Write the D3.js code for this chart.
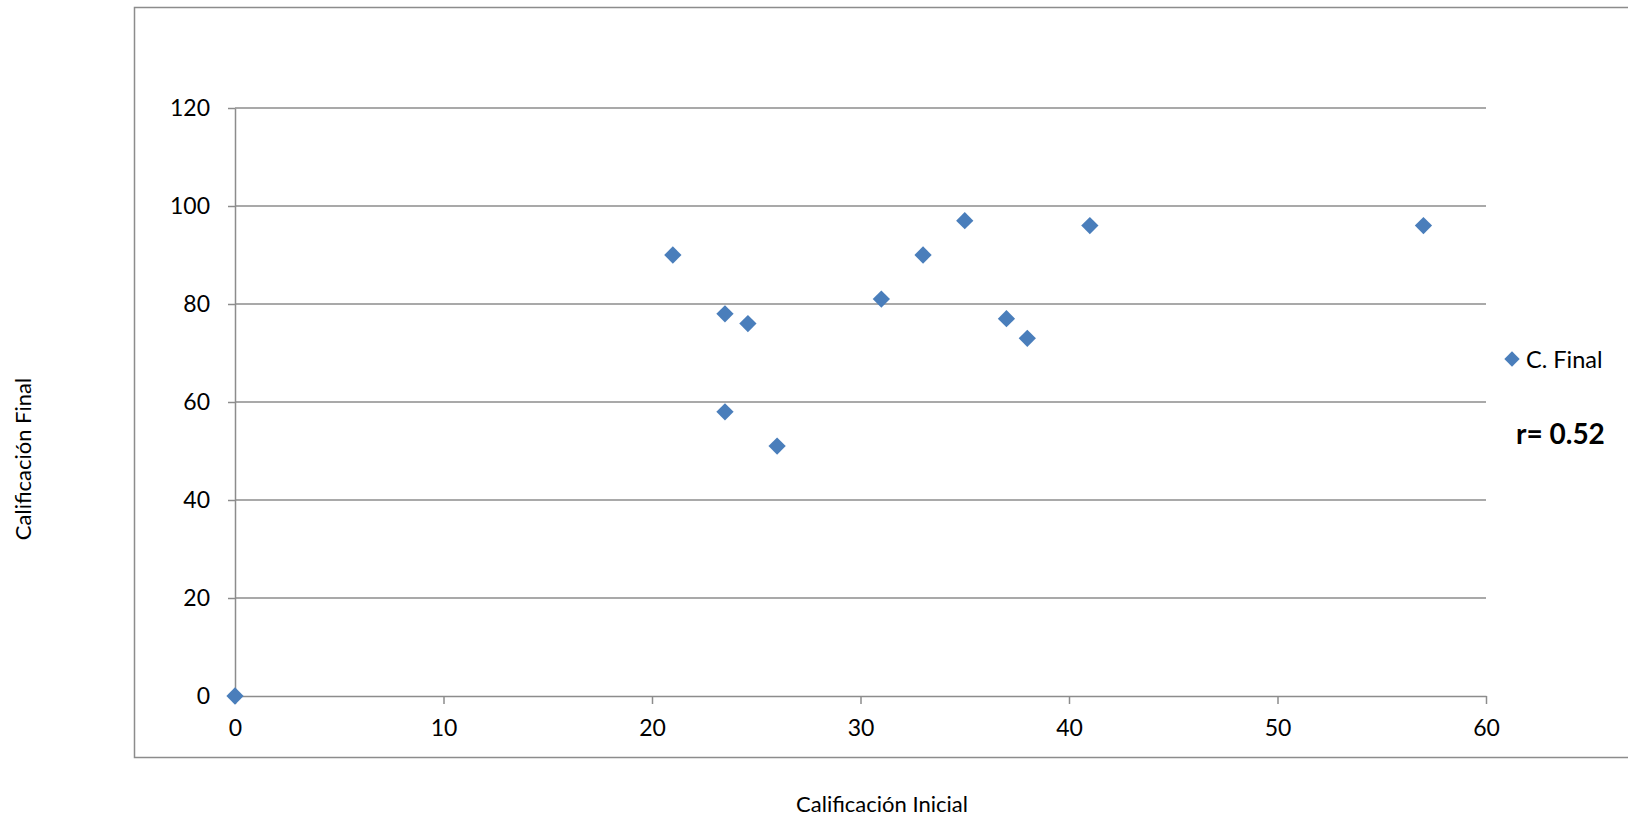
<!DOCTYPE html>
<html>
<head>
<meta charset="UTF-8">
<style>
  body { margin: 0; background: #fff; }
  svg { display: block; font-family: Lato, "Open Sans", sans-serif; }
</style>
</head>
<body>
<svg></svg>
<script src="https://d3js.org/d3.v7.min.js"></script>
<script>

let width = 1628,
    height = 820;

// values
let inicial = [0, 21, 23.5, 23.5, 24.6, 26, 31, 33, 35, 37, 38, 41, 57];
let final   = [0, 90, 78, 58, 76, 51, 81, 90, 97, 77, 73, 96, 96];
let xTicks = [0, 10, 20, 30, 40, 50, 60];
let yTicks = [0, 20, 40, 60, 80, 100, 120];
let seriesName = "C. Final";
let rLabel = "r= 0.52";

let svg = d3.select("svg")
    .attr("width", width)
    .attr("height", height);

let x = d3.scaleLinear().domain([0, 60]).range([235, 1486]);
let y = d3.scaleLinear().domain([0, 120]).range([696, 108]);

let blue = "#4a7ebb",
    grey = "#8c8c8c";

// outer frame
svg.append("rect")
    .attr("x", 134.5).attr("y", 7.5)
    .attr("width", width).attr("height", 750)
    .attr("fill", "none")
    .attr("stroke", grey)
    .attr("stroke-width", 1.5);

// horizontal gridlines
svg.append("g")
  .selectAll("line")
  .data(yTicks.filter(d => d > 0))
  .enter()
  .append("line")
    .attr("x1", x(0)).attr("x2", x(60))
    .attr("y1", d => y(d)).attr("y2", d => y(d))
    .attr("stroke", grey)
    .attr("stroke-width", 1.5);

// y axis
let yAxis = svg.append("g")
    .attr("transform", "translate(" + x(0) + ",0)")
    .call(d3.axisLeft(y).tickValues(yTicks).tickSize(7).tickPadding(18).tickSizeOuter(0));

// x axis
let xAxis = svg.append("g")
    .attr("transform", "translate(0," + y(0) + ")")
    .call(d3.axisBottom(x).tickValues(xTicks).tickSize(8).tickPadding(16).tickSizeOuter(0));

[yAxis, xAxis].forEach(a => {
  a.select(".domain").attr("stroke", grey).attr("stroke-width", 1.5);
  a.selectAll(".tick line").attr("stroke", grey).attr("stroke-width", 1.5);
  a.selectAll(".tick text")
    .attr("fill", "#000")
    .style("font-size", "23px")
    .style("font-family", "Lato, 'Open Sans', sans-serif");
});

// points
let diamond = d3.symbol().type(d3.symbolDiamond2).size(190);

svg.append("g")
  .selectAll("path")
  .data(inicial.map((d, i) => ({x: d, y: final[i]})))
  .enter()
  .append("path")
    .attr("d", diamond)
    .attr("transform", d => "translate(" + x(d.x) + "," + y(d.y) + ")")
    .attr("fill", blue);

// legend
svg.append("path")
    .attr("d", d3.symbol().type(d3.symbolDiamond2).size(150))
    .attr("transform", "translate(1512,359)")
    .attr("fill", blue);

svg.append("text")
    .attr("x", 1526).attr("y", 368)
    .style("font-size", "23.5px")
    .text(seriesName);

svg.append("text")
    .attr("x", 1516).attr("y", 444)
    .style("font-size", "28px")
    .style("font-weight", "bold")
    .text(rLabel);

// axis titles
svg.append("text")
    .attr("x", 882).attr("y", 812)
    .attr("text-anchor", "middle")
    .style("font-size", "22px")
    .text("Calificación Inicial");

svg.append("text")
    .attr("transform", "translate(31,459) rotate(-90)")
    .attr("text-anchor", "middle")
    .style("font-size", "22px")
    .text("Calificación Final");

</script>
</body>
</html>
